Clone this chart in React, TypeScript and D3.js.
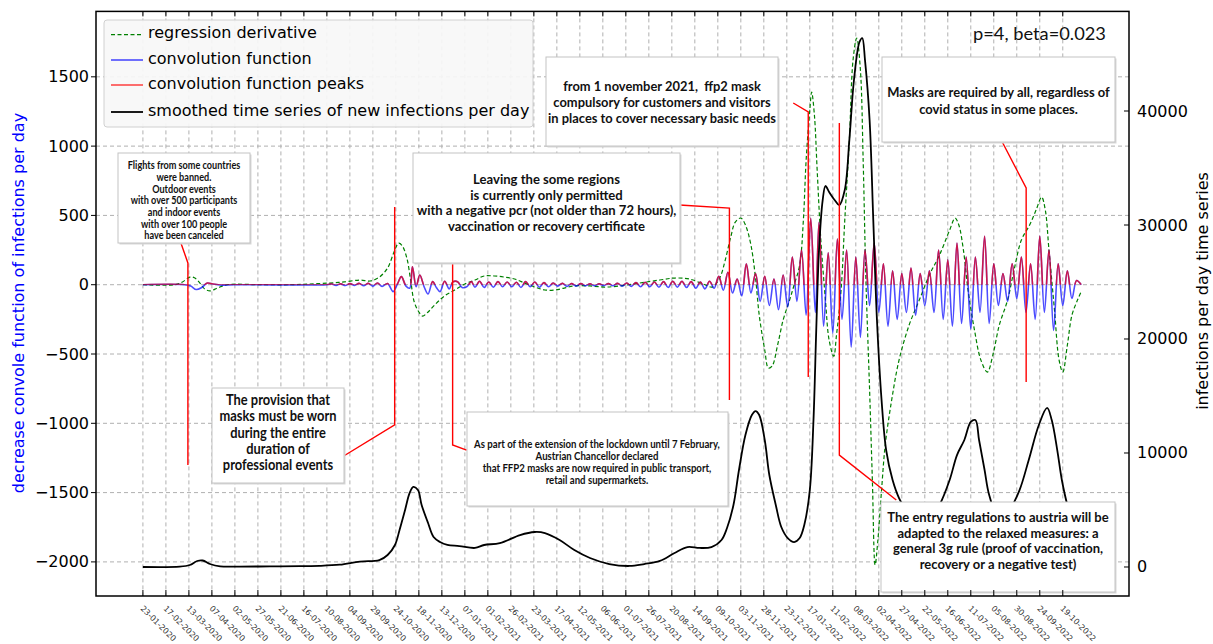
import React, { useRef, useLayoutEffect } from 'react';
import * as d3 from 'd3';

// ---------------- DATA ----------------
const tickLabels = ['23-01-2020','17-02-2020','13-03-2020','07-04-2020','02-05-2020','27-05-2020','21-06-2020','16-07-2020','10-08-2020','04-09-2020','29-09-2020','24-10-2020','18-11-2020','13-12-2020','07-01-2021','01-02-2021','26-02-2021','23-03-2021','17-04-2021','12-05-2021','06-06-2021','01-07-2021','26-07-2021','20-08-2021','14-09-2021','09-10-2021','03-11-2021','28-11-2021','23-12-2021','17-01-2022','11-02-2022','08-03-2022','02-04-2022','27-04-2022','22-05-2022','16-06-2022','11-07-2022','05-08-2022','30-08-2022','24-09-2022','19-10-2022'];
const leftTicks = [1500, 1000, 500, 0, -500, -1000, -1500, -2000];
const rightTicks = [0, 10000, 20000, 30000, 40000];

// [day since 23-01-2020, new infections per day (smoothed)]
const blackSeries: [number, number][] = [
  [0,0],[40,30],[51,175],[59,526],[65,570],[73,263],[84,60],[105,40],[138,50],[171,80],[192,100],[214,200],[236,480],[257,600],[266,1050],[274,1930],[279,3250],[285,5000],[290,6500],[294,7020],[299,6750],[303,5440],[310,3860],[316,2630],[323,2190],[331,1930],[344,1840],[361,1670],[371,1930],[388,2100],[410,2800],[426,3070],[437,2980],[453,2370],[469,1490],[486,790],[507,260],[529,90],[545,260],[562,530],[578,1230],[592,1750],[605,1670],[618,1750],[629,2370],[635,3420],[642,5440],[648,8510],[655,11580],[662,13330],[666,13680],[670,13330],[676,11140],[681,8070],[688,5440],[694,3510],[701,2540],[708,2190],[714,2540],[719,3680],[725,6750],[729,12890],[732,20790],[735,27800],[739,32190],[742,33420],[746,32890],[752,32190],[757,31750],[763,33070],[768,37460],[773,42720],[779,46050],[782,46400],[785,44470],[790,39210],[794,30440],[798,21670],[803,14650],[808,10260],[815,7630],[822,6050],[833,4560],[844,3250],[855,4120],[866,5440],[877,7630],[885,9820],[893,11140],[900,12720],[905,12890],[909,11140],[915,8510],[920,6320],[931,4120],[942,5000],[953,6750],[963,9390],[974,12460],[983,13950],[988,12890],[994,10260],[999,7630],[1005,5440],[1012,3680],[1020,2800]
];

// [day, regression derivative]
const greenSeries: [number, number][] = [
  [0,0],[35,0],[43,20],[51,55],[56,50],[62,12],[67,-30],[73,-45],[81,-24],[92,0],[127,0],[160,0],[181,5],[203,12],[219,20],[236,34],[247,27],[257,55],[266,120],[273,236],[278,300],[282,280],[287,190],[291,35],[295,-125],[300,-197],[304,-226],[310,-197],[317,-147],[328,-80],[339,-38],[350,5],[361,34],[371,63],[382,63],[393,55],[404,41],[415,12],[426,-17],[437,-38],[448,-38],[458,-24],[469,-9],[486,-9],[502,-17],[518,-9],[540,12],[562,34],[578,48],[594,41],[611,0],[619,-17],[627,48],[633,176],[639,343],[644,452],[650,481],[655,431],[661,286],[666,48],[670,-219],[676,-471],[680,-601],[684,-587],[690,-435],[696,-255],[703,-111],[708,0],[714,142],[718,465],[721,898],[725,1260],[727,1390],[730,1224],[733,827],[737,322],[742,-111],[746,-400],[751,-516],[754,-364],[759,-38],[763,465],[768,1043],[772,1621],[776,1780],[780,1549],[783,898],[786,34],[790,-760],[793,-1409],[796,-2022],[799,-1842],[803,-1481],[807,-1156],[814,-832],[822,-544],[833,-291],[844,-111],[855,70],[866,214],[877,394],[883,481],[887,431],[892,250],[897,-38],[904,-327],[911,-544],[918,-630],[924,-508],[931,-291],[940,-111],[947,105],[955,322],[964,431],[971,539],[977,632],[981,539],[985,250],[991,-183],[996,-544],[1000,-630],[1005,-435],[1010,-219],[1016,-111],[1020,-50]
];

// [day, convolution function]
const blueSeries: [number, number][] = [
  [0,0],[45,0],[52,-10],[58,-35],[64,-20],[70,12],[76,5],[85,-3],[100,0],[200,0],
  [205,5],[210,-5],[215,6],[220,-6],[225,8],[230,-5],[235,10],[240,-8],[245,10],[250,-10],[255,12],[260,-12],[266,8],[272,-50],[277,10],[281,58],[286,-10],[290,-25],[293,130],[297,-15],[301,70],[306,-20],[310,-67],[315,22],[319,-20],[323,-50],[328,25],[333,-30],[337,20],[342,22],[347,-20],[352,-15],[357,22],[361,-18],[366,25],[371,-20],[376,20],[381,-18],[386,22],[391,-15],[396,20],[401,-15],[406,18],[411,-20],[416,22],[421,-15],[426,20],[431,-18],[436,15],[441,-15],[446,12],[451,-10],[456,10],[461,-12],[466,8],[471,-10],[476,8],[481,-8],[486,6],[491,-8],[496,6],[501,-6],[506,8],[511,-8],[516,10],[521,-10],[526,12],[531,-12],[536,15],[541,-15],[546,18],[551,-15],[556,20],[561,-18],[566,22],[571,-20],[576,25],[581,-18],[586,25],[591,-20],[596,22],[601,-25],[606,20],[611,-30],[616,25],[621,-25],[626,60],[631,-40],[636,90],[641,-60],[646,40],[651,-80],[656,150],[661,-60],[666,80],[671,-120],[676,60],[681,-150],[686,40],[691,-180],[696,70],[701,-160],[706,200],[711,-120],[716,250],[721,-220],[726,480],[731,-200],[735,450],[740,-300],[745,230],[750,-350],[755,330],[760,-250],[765,250],[770,-450],[775,200],[780,-380],[785,250],[790,-150],[795,300],[800,-200],[805,150],[810,-300],[815,100],[820,-250],[825,80],[830,-200],[835,120],[840,-220],[845,80],[850,-150],[855,100],[860,-200],[865,250],[870,-250],[875,180],[880,-300],[885,300],[890,-280],[895,200],[900,-320],[905,200],[910,-200],[915,350],[920,-280],[925,150],[930,-150],[935,80],[940,-120],[945,150],[950,-100],[955,200],[960,-200],[965,150],[970,-250],[975,350],[980,-200],[985,250],[990,-330],[995,150],[1000,-150],[1005,100],[1010,-100],[1015,30],[1020,0]
];

const legendLabels = ['regression derivative', 'convolution function', 'convolution function peaks', 'smoothed time series of new infections per day'];
const paramText = 'p=4, beta=0.023';
const leftAxisLabel = 'decrease convole function of infections per day';
const rightAxisLabel = 'infections per day time series';

const annotationTexts: string[][] = [
  ['Flights from some countries', 'were banned.', 'Outdoor events', 'with over 500 participants', 'and indoor events', 'with over 100 people', 'have been canceled'],
  ['Leaving the some regions', 'is currently only permitted', 'with a negative pcr (not older than 72 hours),', 'vaccination or recovery certificate'],
  ['from 1 november 2021,  ffp2 mask', 'compulsory for customers and visitors', 'in places to cover necessary basic needs'],
  ['Masks are required by all, regardless of', 'covid status in some places.'],
  ['The provision that', 'masks must be worn', 'during the entire', 'duration of', 'professional events'],
  ['As part of the extension of the lockdown until 7 February,', 'Austrian Chancellor declared', 'that FFP2 masks are now required in public transport,', 'retail and supermarkets.'],
  ['The entry regulations to austria will be', 'adapted to the relaxed measures: a', 'general 3g rule (proof of vaccination,', 'recovery or a negative test)'],
];

// annotation connector paths in data coordinates [day, left-axis value]
const annotationArrows: [number, number][][] = [
  [[41.3, 301], [48.9, 157], [48.9, -1301]],
  [[583.3, 575], [637.6, 553], [637.6, -832]],
  [[707, 1311], [723.3, 1247], [723.3, -666]],
  [[934.2, 1030], [960.2, 698], [960.2, -702]],
  [[218.3, -1236], [273.7, -1012], [273.7, 561]],
  [[351.9, -1193], [336.7, -1156], [336.7, 157]],
  [[819, -1553], [757.1, -1229], [757.1, 1167]],
];

// ---------------- LAYOUT ----------------
const W = 1213, H = 644;
const P = { l: 96, r: 1129, t: 11.4, b: 596 };
const boxLayout = [
  { x0: 118, y0: 153, x1: 250, y1: 243, cx: 184, y: 165, lh: 11.7, fs: 10.5, w: 113 },
  { x0: 413, y0: 153, x1: 680, y1: 263, cx: 546.5, y: 179, lh: 15.5, fs: 14, w: 260 },
  { x0: 546, y0: 57, x1: 778, y1: 146, cx: 662, y: 86, lh: 15.7, fs: 14, w: 228 },
  { x0: 882, y0: 57, x1: 1115, y1: 142, cx: 998.5, y: 92, lh: 16.5, fs: 13.5, w: 223 },
  { x0: 212, y0: 388, x1: 344, y1: 483, cx: 278, y: 399, lh: 16.4, fs: 15, w: 117 },
  { x0: 467, y0: 412, x1: 728, y1: 506, cx: 597, y: 444, lh: 12, fs: 10.5, w: 247 },
  { x0: 881, y0: 502, x1: 1115, y1: 592, cx: 998, y: 517, lh: 15.6, fs: 14, w: 222 },
];
const AX_FONT = 'DejaVu Sans, sans-serif';
const ANN_FONT = 'Lato, Open Sans, sans-serif';

export default function App() {
  const svgRef = useRef<SVGSVGElement>(null);

  const fit = () => {
    const svg = svgRef.current;
    if (!svg) return;
    svg.querySelectorAll<SVGGElement>('g[data-fitw]').forEach((g) => {
      const target = +(g.getAttribute('data-fitw') || 0);
      const cx = +(g.getAttribute('data-cx') || 0);
      const inner = g.firstElementChild as SVGGElement;
      inner.removeAttribute('transform');
      const w = inner.getBBox().width;
      if (w > 0) inner.setAttribute('transform', `translate(${cx},0) scale(${target / w},1) translate(${-cx},0)`);
    });
  };
  useLayoutEffect(() => {
    fit();
    if ((document as any).fonts) (document as any).fonts.ready.then(fit);
  }, []);

  const parse = d3.timeParse('%d-%m-%Y');
  const t0 = parse(tickLabels[0]) as Date;
  const tickDays = tickLabels.map((s) => d3.timeDay.count(t0, parse(s) as Date));

  const x = d3.scaleLinear().domain([-51, 1072]).range([P.l, P.r]);
  const yL = d3.scaleLinear().domain([-2246, 1972]).range([P.b, P.t]);
  const yR = d3.scaleLinear().domain([-2544, 48737]).range([P.b, P.t]);

  const lineL = d3.line<[number, number]>().x((d) => x(d[0])).y((d) => yL(d[1])).curve(d3.curveCatmullRom.alpha(0.5));
  const lineR = d3.line<[number, number]>().x((d) => x(d[0])).y((d) => yR(d[1])).curve(d3.curveCatmullRom.alpha(0.5));
  const lineRaw = d3.line<[number, number]>().x((d) => x(d[0])).y((d) => yL(d[1]));

  const bluePath = lineL(blueSeries) || '';
  const y0 = yL(0);

  return (
    <svg ref={svgRef} width={W} height={H} style={{ position: 'fixed', left: 0, top: 0, background: '#fff' }}>
      <defs>
        <clipPath id="plot"><rect x={P.l} y={P.t} width={P.r - P.l} height={P.b - P.t} /></clipPath>
        <clipPath id="pos"><rect x={P.l} y={P.t} width={P.r - P.l} height={y0 - P.t} /></clipPath>
      </defs>
      <rect x={0} y={0} width={W} height={H} fill="#fff" />
      {/* grid */}
      <g stroke="#b0b0b0" strokeWidth={1} strokeDasharray="4,3">
        {tickDays.map((d, i) => <line key={'gx' + i} x1={x(d)} x2={x(d)} y1={P.t} y2={P.b} />)}
        {leftTicks.map((v) => <line key={'gy' + v} x1={P.l} x2={P.r} y1={yL(v)} y2={yL(v)} />)}
      </g>
      <g clipPath="url(#plot)" fill="none">
        <path d={lineL(greenSeries) || ''} stroke="#008000" strokeWidth={1.2} strokeDasharray="4,2.5" />
        <path d={bluePath} stroke="#0000ff" strokeOpacity={0.7} strokeWidth={1.6} />
        <g clipPath="url(#pos)">
          <path d={bluePath} stroke="#ff0000" strokeOpacity={0.7} strokeWidth={1.6} />
        </g>
        <path d={lineR(blackSeries) || ''} stroke="#000" strokeWidth={1.8} />
      </g>
      {/* annotation connectors */}
      <g fill="none" stroke="#ff0000" strokeWidth={1.4}>
        {annotationArrows.map((a, i) => <path key={'ar' + i} d={lineRaw(a) || ''} />)}
      </g>
      {/* annotation boxes */}
      {annotationTexts.map((lines, i) => {
        const b = boxLayout[i];
        return (
          <g key={'box' + i}>
            <rect x={b.x0 + 1.5} y={b.y0 + 1.5} width={b.x1 - b.x0} height={b.y1 - b.y0} fill="#d8d8d8" />
            <rect x={b.x0} y={b.y0} width={b.x1 - b.x0} height={b.y1 - b.y0} fill="#fff" stroke="#c4c4c4" strokeWidth={1} />
            <g data-fitw={b.w} data-cx={b.cx}>
              <g>
                {lines.map((s, j) => (
                  <text key={j} x={b.cx} y={b.y + j * b.lh} textAnchor="middle" dominantBaseline="central"
                    fontFamily={ANN_FONT} fontWeight={700} fontSize={b.fs} fill="#111" style={{ whiteSpace: 'pre' }}>{s}</text>
                ))}
              </g>
            </g>
          </g>
        );
      })}
      {/* param text */}
      <g data-fitw={133} data-cx={1039.5}>
        <g>
          <text x={1039.5} y={33} textAnchor="middle" dominantBaseline="central" fontFamily={ANN_FONT} fontSize={18} fill="#111">{paramText}</text>
        </g>
      </g>
      {/* legend */}
      <g>
        <rect x={104} y={20} width={429} height={107} rx={3} fill="#f7f7f7" fillOpacity={0.92} stroke="#d0d0d0" strokeWidth={1} />
        {legendLabels.map((s, i) => {
          const ly = [34.6, 60, 85, 112][i];
          const st = [
            { stroke: '#008000', dash: '4,2.5', op: 1, w: 1.2 },
            { stroke: '#0000ff', dash: undefined, op: 0.7, w: 1.6 },
            { stroke: '#ff0000', dash: undefined, op: 0.7, w: 1.6 },
            { stroke: '#000', dash: undefined, op: 1, w: 1.8 },
          ][i];
          return (
            <g key={'lg' + i}>
              <line x1={111} x2={143} y1={ly} y2={ly} stroke={st.stroke} strokeOpacity={st.op} strokeWidth={st.w} strokeDasharray={st.dash} />
              <text x={148} y={ly - 2} dominantBaseline="central" fontFamily={AX_FONT} fontSize={16} fill="#000">{s}</text>
            </g>
          );
        })}
      </g>
      {/* spines */}
      <rect x={P.l} y={P.t} width={P.r - P.l} height={P.b - P.t} fill="none" stroke="#000" strokeWidth={1.5} />
      {/* x ticks */}
      <g stroke="#000" strokeWidth={1}>
        {tickDays.map((d, i) => (
          <g key={'xt' + i}>
            <line x1={x(d)} x2={x(d)} y1={P.b} y2={P.b - 6} />
            <line x1={x(d)} x2={x(d)} y1={P.t} y2={P.t + 5} />
          </g>
        ))}
      </g>
      <g fontFamily={AX_FONT} fontSize={8} fill="#333">
        {tickLabels.map((s, i) => (
          <text key={'xl' + i} transform={`translate(${x(tickDays[i]) + 1},${605}) rotate(45)`} dominantBaseline="hanging">{s}</text>
        ))}
      </g>
      {/* left axis */}
      <g>
        {leftTicks.map((v) => (
          <g key={'lt' + v}>
            <line x1={P.l - 5} x2={P.l} y1={yL(v)} y2={yL(v)} stroke="#000" />
            <text x={P.l - 7} y={yL(v)} textAnchor="end" dominantBaseline="central" fontFamily={AX_FONT} fontSize={16} fill="#000">{v < 0 ? '\u2212' + Math.abs(v) : String(v)}</text>
          </g>
        ))}
        <text transform={`translate(18,${303}) rotate(-90)`} textAnchor="middle" dominantBaseline="central" fontFamily={AX_FONT} fontSize={16} fill="#0000ff">{leftAxisLabel}</text>
      </g>
      {/* right axis */}
      <g>
        {rightTicks.map((v) => (
          <g key={'rt' + v}>
            <line x1={P.r - 5} x2={P.r} y1={yR(v)} y2={yR(v)} stroke="#000" />
            <text x={P.r + 8} y={yR(v)} dominantBaseline="central" fontFamily={AX_FONT} fontSize={16} fill="#000">{String(v)}</text>
          </g>
        ))}
        <text transform={`translate(1202,${291}) rotate(-90)`} textAnchor="middle" dominantBaseline="central" fontFamily={AX_FONT} fontSize={16} fill="#000">{rightAxisLabel}</text>
      </g>
    </svg>
  );
}
